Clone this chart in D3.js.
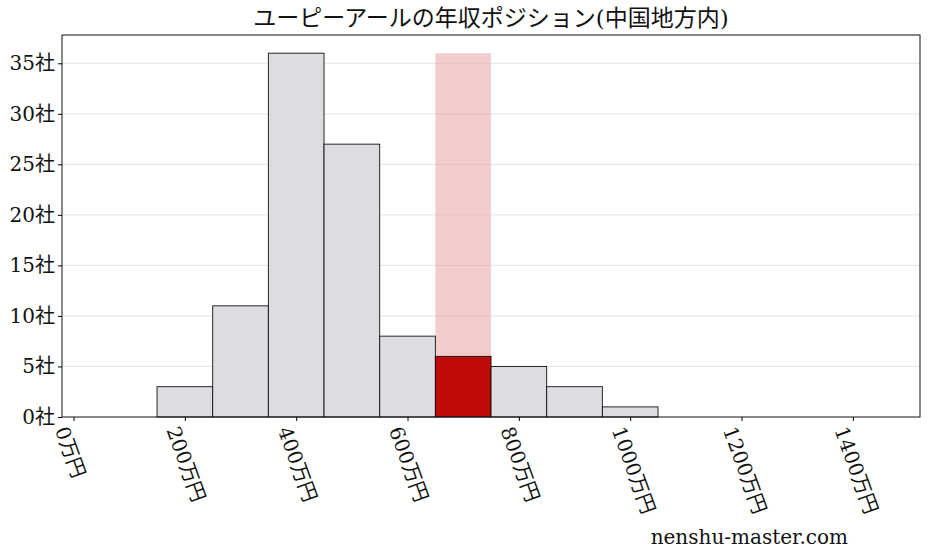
<!DOCTYPE html>
<html><head><meta charset="utf-8">
<script src="https://cdn.jsdelivr.net/npm/d3@7"></script>
<style>body{margin:0;background:#fff}text{font-family:"DejaVu Serif","Noto Sans CJK JP",serif}</style>
</head><body><div id="chart"></div>
<script>
const binStarts = [150, 250, 350, 450, 550, 650, 750, 850, 950];
const counts = [3, 11, 36, 27, 8, 6, 5, 3, 1];
const highlightBin = 650;
const xTicks = [0, 200, 400, 600, 800, 1000, 1200, 1400];
const yTicks = [0, 5, 10, 15, 20, 25, 30, 35];
const binWidth = 100;

const W = 928, H = 557;
const margin = {top: 35, right: 8, bottom: 140, left: 62};
const width = W - margin.left - margin.right, height = H - margin.top - margin.bottom;

const svg = d3.select("#chart").append("svg").attr("width", W).attr("height", H);
const g = svg.append("g").attr("transform", "translate(" + margin.left + "," + margin.top + ")");

const x = d3.scaleLinear().domain([-20.7, 1520.6]).range([0, width]);
const y = d3.scaleLinear().domain([0, 37.8]).range([height, 0]);

// grid
g.selectAll(".grid").data(yTicks.slice(1)).enter().append("line")
    .attr("x1", 0).attr("x2", width)
    .attr("y1", d => y(d)).attr("y2", d => y(d))
    .attr("stroke", "#ddd").attr("stroke-width", 0.8);

// highlight band
g.append("rect")
    .attr("x", x(highlightBin)).attr("width", x(highlightBin + binWidth) - x(highlightBin))
    .attr("y", y(d3.max(counts))).attr("height", height - y(d3.max(counts)))
    .attr("fill", "#e89a9a").attr("opacity", 0.5);

// bars
g.selectAll(".bar").data(binStarts).enter().append("rect")
    .attr("x", d => x(d)).attr("width", d => x(d + binWidth) - x(d))
    .attr("y", (d, i) => y(counts[i])).attr("height", (d, i) => height - y(counts[i]))
    .attr("fill", d => d === highlightBin ? "#c00a0a" : "#dcdde0")
    .attr("stroke", "#111").attr("stroke-width", 0.9);

// frame
g.append("rect").attr("width", width).attr("height", height)
    .attr("fill", "none").attr("stroke", "#111").attr("stroke-width", 1);

// y axis
const ya = g.append("g").call(d3.axisLeft(y).tickValues(yTicks).tickFormat(d => d + "社").tickSize(4));
ya.select(".domain").remove();
ya.selectAll("text").attr("font-size", 20).attr("fill", "#111");

// x axis
const xa = g.append("g").attr("transform", "translate(0," + height + ")")
    .call(d3.axisBottom(x).tickValues(xTicks).tickFormat(d => d + "万円").tickSize(4));
xa.select(".domain").remove();
xa.selectAll("text").attr("font-size", 20).attr("fill", "#111")
    .attr("text-anchor", "start").attr("dy", "0.35em")
    .attr("transform", "translate(-6,8) rotate(70)");

svg.append("text").attr("x", margin.left + width / 2).attr("y", 26)
    .attr("text-anchor", "middle").attr("font-size", 23).attr("fill", "#111")
    .text("ユーピーアールの年収ポジション(中国地方内)");

svg.append("text").attr("x", 848).attr("y", 544).attr("text-anchor", "end")
    .attr("font-size", 20).attr("fill", "#111").text("nenshu-master.com");
</script></body></html>
